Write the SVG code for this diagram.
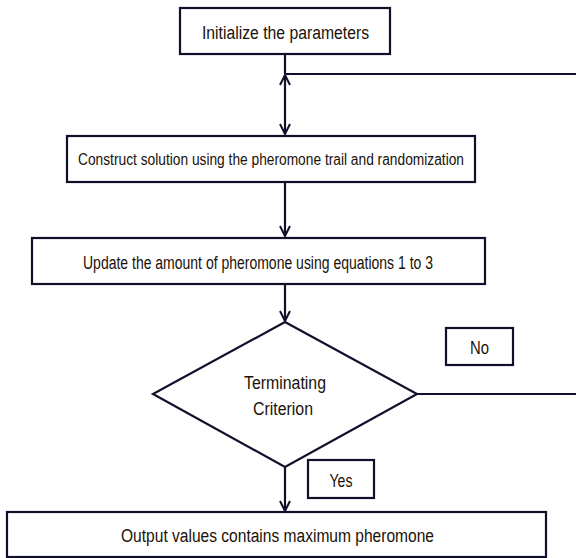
<svg xmlns="http://www.w3.org/2000/svg" width="576" height="558" viewBox="0 0 576 558">
<style>
.box{fill:#fff;stroke:#10102a;stroke-width:2.2}
.ln{fill:none;stroke:#10102a;stroke-width:2.2}
.t{font-family:"Liberation Sans",Arial,sans-serif;font-size:18px;fill:#1a1208;text-anchor:middle}
.s{font-size:16px}
</style>
<defs>
<marker id="arr" viewBox="0 0 12 12" refX="11" refY="6" markerWidth="12" markerHeight="12" markerUnits="userSpaceOnUse" orient="auto-start-reverse">
<path d="M1,1 L11,6 L1,11" fill="none" stroke="#10102a" stroke-width="2"/>
</marker>
</defs>
<rect width="576" height="558" fill="#fff"/>
<g id="connectors">
<line class="ln" x1="285" y1="54" x2="285" y2="74"/>
<line class="ln" x1="285" y1="75" x2="285" y2="134" marker-start="url(#arr)" marker-end="url(#arr)"/>
<line class="ln" x1="286" y1="74" x2="577" y2="74"/>
<line class="ln" x1="285" y1="182" x2="285" y2="236" marker-end="url(#arr)"/>
<line class="ln" x1="285" y1="284" x2="285" y2="321" marker-end="url(#arr)"/>
<line class="ln" x1="417" y1="394" x2="577" y2="394"/>
<line class="ln" x1="285" y1="467" x2="285" y2="511" marker-end="url(#arr)"/>
</g>
<g id="init">
<rect class="box" x="180" y="8" width="210" height="46"/>
<text class="t" x="285.5" y="39" textLength="167" lengthAdjust="spacingAndGlyphs">Initialize the parameters</text>
</g>
<g id="construct">
<rect class="box" x="67" y="136" width="408" height="46"/>
<text class="t s" x="271" y="165" textLength="386" lengthAdjust="spacingAndGlyphs">Construct solution using the pheromone trail and randomization</text>
</g>
<g id="update">
<rect class="box" x="32" y="238" width="453" height="46"/>
<text class="t" x="258" y="269" textLength="350" lengthAdjust="spacingAndGlyphs">Update the amount of pheromone using equations 1 to 3</text>
</g>
<g id="decision">
<polygon class="box" points="285,322 417,394 285,467 153,394"/>
<text class="t" x="285" y="389" textLength="82" lengthAdjust="spacingAndGlyphs">Terminating</text>
<text class="t" x="283" y="415" textLength="60" lengthAdjust="spacingAndGlyphs">Criterion</text>
</g>
<g id="no">
<rect class="box" x="446" y="328" width="67" height="37"/>
<text class="t" x="479.5" y="354" textLength="19" lengthAdjust="spacingAndGlyphs">No</text>
</g>
<g id="yes">
<rect class="box" x="308" y="460" width="66" height="38"/>
<text class="t" x="341" y="487" textLength="23" lengthAdjust="spacingAndGlyphs">Yes</text>
</g>
<g id="output">
<rect class="box" x="7" y="512" width="539" height="45"/>
<text class="t" x="277.5" y="542" textLength="313" lengthAdjust="spacingAndGlyphs">Output values contains maximum pheromone</text>
</g>
</svg>
